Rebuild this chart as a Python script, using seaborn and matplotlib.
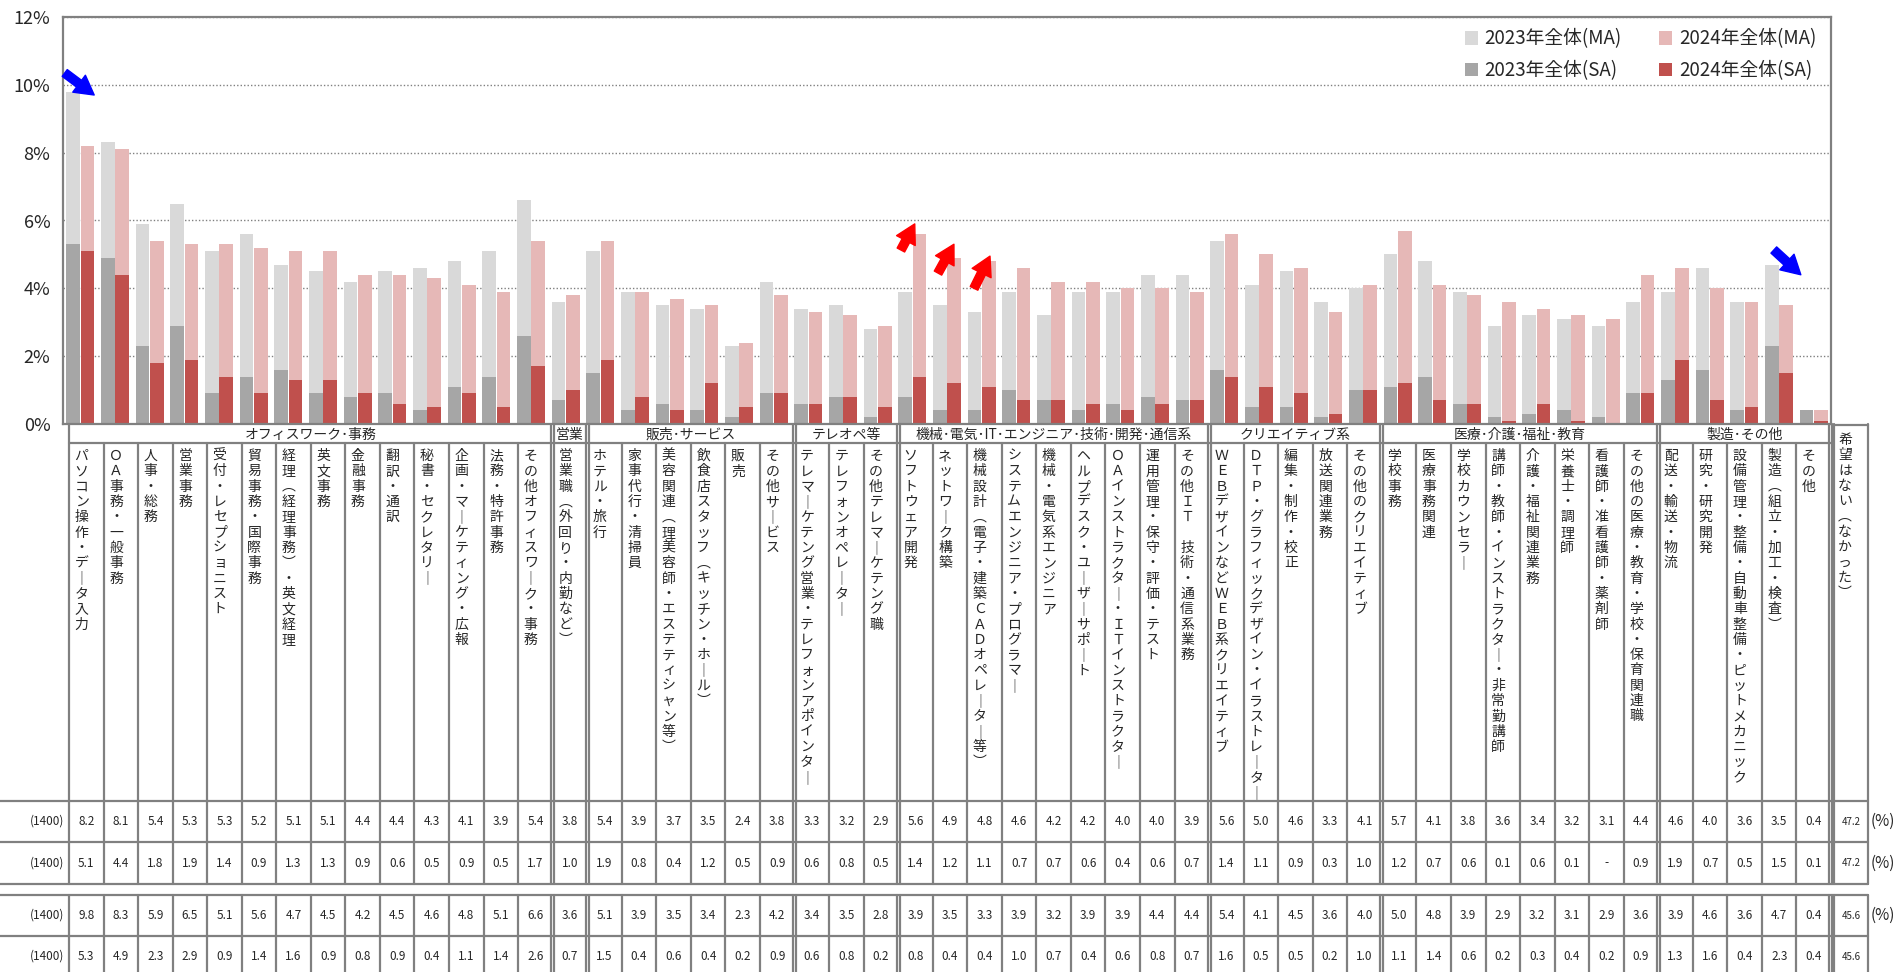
# 希望職種（2023年・2024年 全体）の比較グラフ
import numpy as np
import pandas as pd
import matplotlib
matplotlib.use('Agg')
import matplotlib.pyplot as plt
from matplotlib.patches import Patch
import seaborn as sns

# グループ（職種の大分類）と各グループの職種数
grupos = ['オフィスワーク･事務', '営業', '販売･サービス', 'テレオペ等',
          '機械･電気･IT･エンジニア･技術･開発･通信系', 'クリエイティブ系',
          '医療･介護･福祉･教育', '製造･その他']
n_grupo = [14, 1, 6, 3, 9, 5, 8, 5]

categorias = [
    'パソコン操作・データ入力', 'ＯＡ事務・一般事務', '人事・総務', '営業事務',
    '受付・レセプショニスト', '貿易事務・国際事務', '経理（経理事務）・英文経理',
    '英文事務', '金融事務', '翻訳・通訳', '秘書・セクレタリー',
    '企画・マーケティング・広報', '法務・特許事務', 'その他オフィスワーク・事務',
    '営業職（外回り・内勤など）',
    'ホテル・旅行', '家事代行・清掃員', '美容関連（理美容師・エステティシャン等）',
    '飲食店スタッフ（キッチン・ホール）', '販売', 'その他サービス',
    'テレマーケテング営業・テレフォンアポインター', 'テレフォンオペレーター',
    'その他テレマーケテング職',
    'ソフトウェア開発', 'ネットワーク構築', '機械設計（電子・建築ＣＡＤオペレーター等）',
    'システムエンジニア・プログラマー', '機械・電気系エンジニア',
    'ヘルプデスク・ユーザーサポート', 'ＯＡインストラクター・ＩＴインストラクター',
    '運用管理・保守・評価・テスト', 'その他ＩＴ　技術・通信系業務',
    'ＷＥＢデザインなどＷＥＢ系クリエイティブ', 'ＤＴＰ・グラフィックデザイン・イラストレーター',
    '編集・制作・校正', '放送関連業務', 'その他のクリエイティブ',
    '学校事務', '医療事務関連', '学校カウンセラー', '講師・教師・インストラクター・非常勤講師',
    '介護・福祉関連業務', '栄養士・調理師', '看護師・准看護師・薬剤師',
    'その他の医療・教育・学校・保育関連職',
    '配送・輸送・物流', '研究・研究開発', '設備管理・整備・自動車整備・ピットメカニック',
    '製造（組立・加工・検査）', 'その他',
]
cat_nashi = '希望はない（なかった）'

# 値（%）
ma_2024 = [8.2, 8.1, 5.4, 5.3, 5.3, 5.2, 5.1, 5.1, 4.4, 4.4, 4.3, 4.1, 3.9, 5.4,
           3.8,
           5.4, 3.9, 3.7, 3.5, 2.4, 3.8,
           3.3, 3.2, 2.9,
           5.6, 4.9, 4.8, 4.6, 4.2, 4.2, 4.0, 4.0, 3.9,
           5.6, 5.0, 4.6, 3.3, 4.1,
           5.7, 4.1, 3.8, 3.6, 3.4, 3.2, 3.1, 4.4,
           4.6, 4.0, 3.6, 3.5, 0.4]
sa_2024 = [5.1, 4.4, 1.8, 1.9, 1.4, 0.9, 1.3, 1.3, 0.9, 0.6, 0.5, 0.9, 0.5, 1.7,
           1.0,
           1.9, 0.8, 0.4, 1.2, 0.5, 0.9,
           0.6, 0.8, 0.5,
           1.4, 1.2, 1.1, 0.7, 0.7, 0.6, 0.4, 0.6, 0.7,
           1.4, 1.1, 0.9, 0.3, 1.0,
           1.2, 0.7, 0.6, 0.1, 0.6, 0.1, None, 0.9,
           1.9, 0.7, 0.5, 1.5, 0.1]
ma_2023 = [9.8, 8.3, 5.9, 6.5, 5.1, 5.6, 4.7, 4.5, 4.2, 4.5, 4.6, 4.8, 5.1, 6.6,
           3.6,
           5.1, 3.9, 3.5, 3.4, 2.3, 4.2,
           3.4, 3.5, 2.8,
           3.9, 3.5, 3.3, 3.9, 3.2, 3.9, 3.9, 4.4, 4.4,
           5.4, 4.1, 4.5, 3.6, 4.0,
           5.0, 4.8, 3.9, 2.9, 3.2, 3.1, 2.9, 3.6,
           3.9, 4.6, 3.6, 4.7, 0.4]
sa_2023 = [5.3, 4.9, 2.3, 2.9, 0.9, 1.4, 1.6, 0.9, 0.8, 0.9, 0.4, 1.1, 1.4, 2.6,
           0.7,
           1.5, 0.4, 0.6, 0.4, 0.2, 0.9,
           0.6, 0.8, 0.2,
           0.8, 0.4, 0.4, 1.0, 0.7, 0.4, 0.6, 0.8, 0.7,
           1.6, 0.5, 0.5, 0.2, 1.0,
           1.1, 1.4, 0.6, 0.2, 0.3, 0.4, 0.2, 0.9,
           1.3, 1.6, 0.4, 2.3, 0.4]
nashi = [47.2, 47.2, 45.6, 45.6]
n_base = ['(1400)', '(1400)', '(1400)', '(1400)']

etiquetas = ['2023年全体(MA)', '2023年全体(SA)', '2024年全体(MA)', '2024年全体(SA)']
cores = ['#d9d9d9', '#a6a6a6', '#e6b8b7', '#c0504d']

sns.set_style('white')
plt.rcParams['font.family'] = ['Noto Sans CJK JP', 'DejaVu Sans']

W, H = 1896, 972
fig = plt.figure(figsize=(W / 100, H / 100), dpi=100)


def fx(px):
    return px / W


def fy(py):
    return 1 - py / H


# --- gráfico de barras ---
ax = fig.add_axes([fx(63), fy(424), fx(1831) - fx(63), fy(17) - fy(424)])
df = pd.DataFrame({
    '職種': categorias * 2,
    '年': ['2023年'] * len(categorias) + ['2024年'] * len(categorias),
    'MA': ma_2023 + ma_2024,
    'SA': sa_2023 + sa_2024,
})
df['SA'] = pd.to_numeric(df['SA']).fillna(0)
opts = dict(data=df, x='職種', hue='年', width=0.84, gap=0.06, errorbar=None,
            saturation=1, linewidth=0, legend=False, ax=ax)
sns.barplot(y='MA', palette=[cores[0], cores[2]], **opts)
sns.barplot(y='SA', palette=[cores[1], cores[3]], **opts)

ax.set_xlim(-0.5, len(categorias) - 0.5)
ax.set_ylim(0, 12)
ax.set_yticks(range(0, 13, 2))
ax.set_yticklabels([f'{v}%' for v in range(0, 13, 2)], fontsize=13)
ax.set_xticks(range(len(categorias)))
ax.set_xticklabels([])
ax.set_xticks(np.arange(-0.5, len(categorias), 1), minor=True)
ax.tick_params(axis='x', which='major', length=0)
ax.tick_params(axis='x', which='minor', direction='in', length=4, color='#808080', width=1)
ax.tick_params(axis='y', direction='out', length=5, color='#808080', width=1, pad=4)
ax.set_xlabel('')
ax.set_ylabel('')
ax.yaxis.grid(True, linestyle=(0, (1, 1.5)), color='#808080', linewidth=1)
ax.set_axisbelow(True)
for s in ax.spines.values():
    s.set_color('#808080')
    s.set_linewidth(1.6)

handles = [Patch(facecolor=c, edgecolor='none') for c in cores]
ax.legend(handles, etiquetas, ncol=2, loc='upper right', bbox_to_anchor=(0.996, 0.99),
          frameon=False, fontsize=13.5, handlelength=0.7, handleheight=0.7,
          handletextpad=0.35, columnspacing=2.0, labelspacing=0.55, borderaxespad=0)

# flechas
flecha = 'simple,head_width=0.95,head_length=0.85,tail_width=0.38'
for (x0, y0), (x1, y1), c in [((-0.45, 10.35), (0.4, 9.7), '#0000ff'),
                              ((48.85, 5.13), (49.63, 4.4), '#0000ff'),
                              ((23.67, 5.13), (24.07, 5.9), '#ff0000'),
                              ((24.74, 4.45), (25.2, 5.3), '#ff0000'),
                              ((25.78, 4.0), (26.24, 4.95), '#ff0000')]:
    ax.annotate('', xy=(x1, y1), xytext=(x0, y0), annotation_clip=False,
                arrowprops=dict(arrowstyle=flecha, color=c, mutation_scale=16,
                                shrinkA=0, shrinkB=0))

# --- tabla y etiquetas ---
tab = fig.add_axes([0, 0, 1, 1])
tab.set_xlim(0, W)
tab.set_ylim(H, 0)
tab.axis('off')

gc = '#808080'
lw = 1.6
c0, c1 = 69, 1831
cw = (c1 - c0) / len(categorias)
xs = [c0 + i * cw for i in range(len(categorias) + 1)]
limites = list(np.cumsum([0] + n_grupo))
y_ax, y_grp, y_fin1 = 424, 443, 884
y_ini2, y_fin2 = 895, 980
x_nashi0, x_nashi1 = 1834, 1868

for i, x in enumerate(xs):
    if i in limites and i != 0:
        for dx in (-1.5, 1.5):
            tab.plot([x + dx, x + dx], [y_ax, y_fin1], color=gc, lw=lw)
            tab.plot([x + dx, x + dx], [y_ini2, y_fin2], color=gc, lw=lw)
    else:
        top = y_ax if i == 0 else y_grp
        tab.plot([x, x], [top, y_fin1], color=gc, lw=lw)
        tab.plot([x, x], [y_ini2, y_fin2], color=gc, lw=lw)
for x in (x_nashi0, x_nashi1):
    tab.plot([x, x], [y_ax, y_fin1], color=gc, lw=lw)
    tab.plot([x, x], [y_ini2, y_fin2], color=gc, lw=lw)
tab.plot([c0, c1], [y_grp, y_grp], color=gc, lw=lw)
tab.plot([x_nashi0 - 1, x_nashi1], [y_ax + 1, y_ax + 1], color=gc, lw=lw)
filas_y = [801, 842, 884, 895, 936]
for y in filas_y:
    tab.plot([0, x_nashi1], [y, y], color=gc, lw=lw)

# nombres de grupo
for g, nome in enumerate(grupos):
    xm = (xs[limites[g]] + xs[limites[g + 1]]) / 2
    tab.text(xm, (y_ax + y_grp) / 2 + 1, nome, ha='center', va='center', fontsize=10)

# etiquetas verticales
vert = str.maketrans({'ー': '｜', '（': '︵', '）': '︶'})


def tate(s):
    return '\n'.join(s.translate(vert))


for i, cat in enumerate(categorias):
    tab.text(xs[i] + 12.5, 449, tate(cat), ha='center', va='top', fontsize=10,
             linespacing=1.12)
tab.text(x_nashi0 + 11, 433, tate(cat_nashi), ha='center', va='top', fontsize=10,
         linespacing=1.12)

# valores de la tabla
series = [ma_2024, sa_2024, ma_2023, sa_2023]
centros = [(801 + 842) / 2, (842 + 884) / 2, (895 + 936) / 2, (936 + 977) / 2]
for r, (vals, yc) in enumerate(zip(series, centros)):
    tab.text(64, yc, n_base[r], ha='right', va='center', fontsize=8.5)
    for i, v in enumerate(vals):
        txt = '-' if v is None else f'{v:.1f}'
        tab.text((xs[i] + xs[i + 1]) / 2, yc, txt, ha='center', va='center', fontsize=8.5)
    tab.text((x_nashi0 + x_nashi1) / 2, yc, f'{nashi[r]:.1f}', ha='center', va='center',
             fontsize=7)
    if r < 3:
        tab.text(1871, yc, '(%)', ha='left', va='center', fontsize=11)

fig.savefig('out.png', dpi=100)
